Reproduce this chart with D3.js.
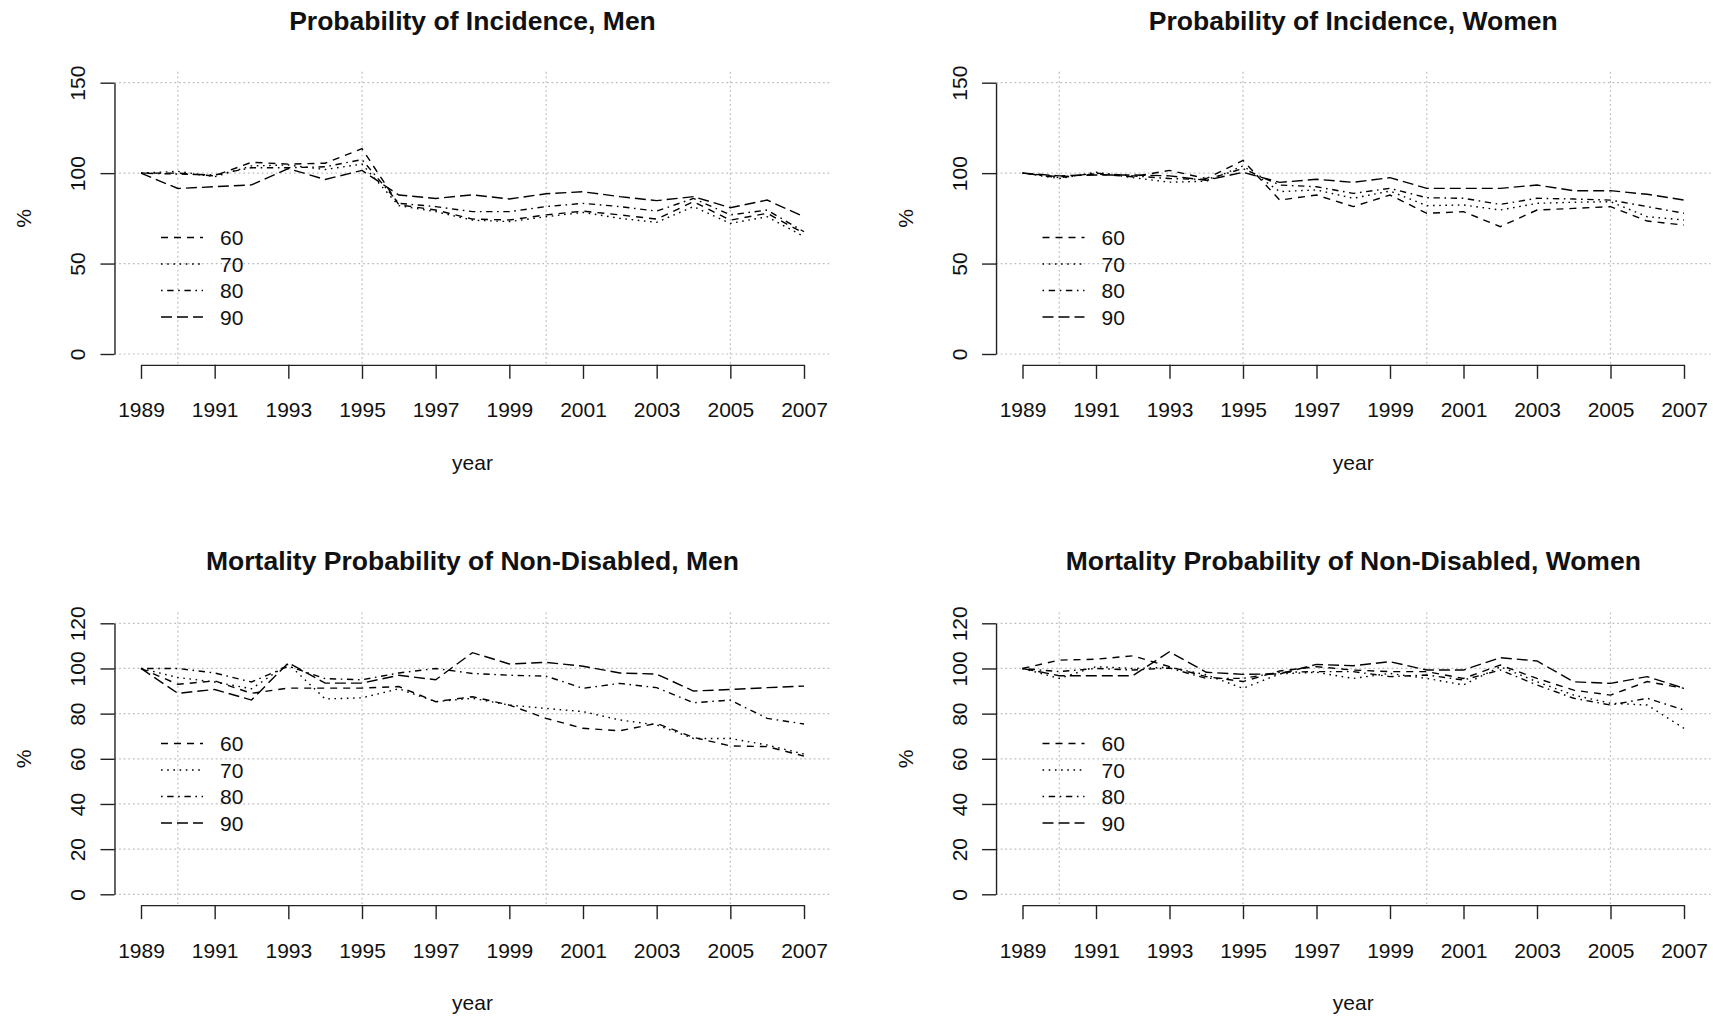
<!DOCTYPE html>
<html>
<head>
<meta charset="utf-8">
<title>Incidence and Mortality Probabilities</title>
<script src="https://cdnjs.cloudflare.com/ajax/libs/d3/7.8.5/d3.min.js"></script>
<style>
    body { margin: 0; background: #fff; }
    svg { display: block; font-family: "Liberation Sans", Arial, sans-serif; }
</style>
</head>
<body>
<div id="chart"></div>
<script>

    // ---- data ----
    var years = [1989, 1990, 1991, 1992, 1993, 1994, 1995, 1996, 1997, 1998,
                 1999, 2000, 2001, 2002, 2003, 2004, 2005, 2006, 2007];
    var ageGroups = ["60", "70", "80", "90"];
    var yearTicks = [1989, 1991, 1993, 1995, 1997, 1999, 2001, 2003, 2005, 2007];
    var gridYears = [1990, 1995, 2000, 2005];
    var incidenceTicks = [0, 50, 100, 150];
    var mortalityTicks = [0, 20, 40, 60, 80, 100, 120];
    var titles = ["Probability of Incidence, Men", "Probability of Incidence, Women",
                  "Mortality Probability of Non-Disabled, Men", "Mortality Probability of Non-Disabled, Women"];

    var incMen60 = [100, 100, 98.5, 106, 105, 105.5, 113.5, 82.5, 79.6, 74.6, 74.1, 76.9, 79, 76.9, 74.6, 84.2, 74, 77.8, 66.7];
    var incMen70 = [100, 101, 98, 104, 104.5, 102, 105, 82, 78.7, 74, 73.2, 75.9, 78.3, 75, 72.8, 81.5, 72.2, 75.9, 64.9];
    var incMen80 = [100, 99.5, 99, 103, 103, 103.5, 107.5, 83.3, 81.5, 78.7, 78.7, 81.5, 83.3, 81.5, 79, 86, 76.9, 79.6, 67.6];
    var incMen90 = [100, 91.5, 92.5, 93.5, 102.5, 96.5, 101.5, 87.9, 86, 88, 85.7, 88.6, 89.7, 87, 84.8, 87, 80.9, 85.1, 75.9];

    var incWomen60 = [100, 98, 99.5, 98, 101.5, 97, 107, 85.1, 87.9, 81.5, 87.9, 77.8, 78.7, 70.4, 79.6, 80.5, 81.5, 73.5, 71.3];
    var incWomen70 = [100, 97, 100.5, 97.5, 95, 95.5, 104, 89.8, 90.7, 86.1, 90.1, 82, 82.4, 79.6, 83.3, 83.9, 84.2, 75.9, 74.1];
    var incWomen80 = [100, 97.5, 100, 98.5, 97, 96.5, 102.5, 93.4, 92.5, 88.8, 91.6, 86.4, 86.1, 82.7, 86.1, 85.7, 85.1, 81.5, 77.8];
    var incWomen90 = [100, 98.5, 99, 99, 98.5, 96, 100.5, 94.9, 96.6, 94.9, 97.5, 91.6, 91.6, 91.6, 93.4, 90.3, 90.3, 88.3, 85.1];

    var mortMen60 = [100, 93, 94.5, 89, 91.3, 91.3, 91.3, 92, 85.3, 87.5, 83.8, 77.9, 73.5, 72.4, 75.7, 69.5, 65.7, 65.4, 61.2];
    var mortMen70 = [100, 96, 94, 91, 102, 86.5, 87, 91, 85.3, 86.8, 83.8, 82.3, 80.9, 77.2, 75, 69, 69, 66.1, 62.1];
    var mortMen80 = [100, 100, 98, 94, 101, 95.5, 95, 98, 100, 97.8, 97, 96.6, 91.2, 93.4, 91.5, 84.8, 86, 77.9, 75.4];
    var mortMen90 = [100, 89, 90.7, 86, 102.5, 93.5, 93.5, 97, 95, 107, 102, 102.7, 101, 98, 97.5, 90, 90.7, 91.5, 92.2];

    var mortWomen60 = [100, 103.7, 104.1, 105.6, 100.8, 96.4, 94.2, 98.9, 100.8, 99.3, 98.6, 98.6, 95.6, 101.5, 95.6, 90.4, 88.2, 94.2, 91.2];
    var mortWomen70 = [100, 95.6, 100.8, 100, 100.5, 97.2, 91.2, 97.6, 98.3, 95.6, 97.8, 95.6, 92.7, 100.8, 94.1, 88.2, 84.6, 83.8, 73.5];
    var mortWomen80 = [100, 98.6, 100, 99.3, 100.2, 95.6, 95.6, 98.3, 98.6, 98.6, 96.4, 97.1, 94.9, 99.3, 92.7, 86.8, 83.8, 86.8, 81.6];
    var mortWomen90 = [100, 96.8, 96.8, 96.8, 107.4, 98.3, 97.4, 97.6, 101.8, 101.2, 103, 99.3, 99.3, 104.8, 103.3, 94.1, 93.4, 96.4, 91.2];

    // R line types 2..5 (dashed, dotted, dotdash, longdash)
    var dashes = ["7,6", "1.6,4.6", "1.6,4.6,6.4,4.6", "11,5"];

    var panels = [
        { title: titles[0], series: [incMen60, incMen70, incMen80, incMen90], ticks: incidenceTicks, col: 0, row: 0 },
        { title: titles[1], series: [incWomen60, incWomen70, incWomen80, incWomen90], ticks: incidenceTicks, col: 1, row: 0 },
        { title: titles[2], series: [mortMen60, mortMen70, mortMen80, mortMen90], ticks: mortalityTicks, col: 0, row: 1 },
        { title: titles[3], series: [mortWomen60, mortWomen70, mortWomen80, mortWomen90], ticks: mortalityTicks, col: 1, row: 1 }
    ];

    // pixel frame of each column / row (first to last tick)
    var cols = [{ x0: 141, x1: 804 }, { x0: 1022.5, x1: 1684 }];
    var rows = [{ y0: 354, y1: 82.7 }, { y0: 894.3, y1: 623.3 }];

    var svg = d3.select("#chart").append("svg")
        .attr("width", 1713)
        .attr("height", 1018);

    svg.append("rect").attr("width", 1713).attr("height", 1018).attr("fill", "#fff");

    function DrawPanel(p) {
        var c = cols[p.col], r = rows[p.row];
        var yMax = d3.max(p.ticks);

        var x = d3.scaleLinear().domain([years[0], years[years.length - 1]]).range([c.x0, c.x1]);
        var y = d3.scaleLinear().domain([0, yMax]).range([r.y0, r.y1]);

        // plot region, R style 4% extension
        var padX = (years[years.length - 1] - years[0]) * 0.04;
        var padY = yMax * 0.04;
        var left = x(years[0] - padX), right = x(years[years.length - 1] + padX);
        var bottom = y(-padY), top = y(yMax + padY);

        var g = svg.append("g");

        // grid
        g.selectAll(".hgrid").data(p.ticks).enter().append("line")
            .attr("x1", left).attr("x2", right)
            .attr("y1", function(d) { return y(d); })
            .attr("y2", function(d) { return y(d); })
            .attr("stroke", "#bdbdbd").attr("stroke-width", 1.2)
            .attr("stroke-dasharray", "1.8,2.8");
        g.selectAll(".vgrid").data(gridYears).enter().append("line")
            .attr("y1", top).attr("y2", bottom)
            .attr("x1", function(d) { return x(d); })
            .attr("x2", function(d) { return x(d); })
            .attr("stroke", "#bdbdbd").attr("stroke-width", 1.2)
            .attr("stroke-dasharray", "1.8,2.8");

        // series
        var line = d3.line()
            .x(function(d, i) { return x(years[i]); })
            .y(function(d) { return y(d); });

        p.series.forEach(function(s, k) {
            g.append("path")
                .attr("d", line(s))
                .attr("fill", "none")
                .attr("stroke", "#000")
                .attr("stroke-width", 1.4)
                .attr("stroke-dasharray", dashes[k]);
        });

        // x axis
        var xAxis = g.append("g")
            .attr("transform", "translate(0," + bottom + ")")
            .call(d3.axisBottom(x).tickValues(yearTicks).tickFormat(d3.format("d"))
                .tickSize(14).tickSizeOuter(0));
        xAxis.selectAll("text")
            .attr("y", 417.5 - 364.9).attr("dy", 0)
            .attr("font-size", 21).attr("fill", "#111");

        // y axis
        var yAxis = g.append("g")
            .attr("transform", "translate(" + left + ",0)")
            .call(d3.axisLeft(y).tickValues(p.ticks).tickSize(14).tickSizeOuter(0));
        yAxis.selectAll("text")
            .attr("transform", "rotate(-90)")
            .attr("x", 0).attr("y", -29).attr("dy", 0)
            .style("text-anchor", "middle")
            .attr("font-size", 21).attr("fill", "#111");

        [xAxis, yAxis].forEach(function(a) {
            a.attr("font-family", null).attr("font-size", null);
            a.selectAll("path, line").attr("stroke", "#222").attr("stroke-width", 1.4);
        });

        // labels
        g.append("text")
            .attr("x", (left + right) / 2).attr("y", r.y0 - 354 + 29.5)
            .attr("text-anchor", "middle")
            .attr("font-size", 26.5).attr("font-weight", "bold").attr("fill", "#111")
            .text(p.title);
        g.append("text")
            .attr("x", (left + right) / 2).attr("y", r.y0 - 354 + 470)
            .attr("text-anchor", "middle")
            .attr("font-size", 21).attr("fill", "#111")
            .text("year");
        g.append("text")
            .attr("transform", "translate(" + (left - 83.5) + "," + ((top + bottom) / 2) + ") rotate(-90)")
            .attr("text-anchor", "middle")
            .attr("font-size", 21).attr("fill", "#111")
            .text("%");

        // legend
        var legTop = p.row === 0 ? 237.5 : 743.5;
        var lx = x(years[0]) + 20;
        ageGroups.forEach(function(a, k) {
            var ly = legTop + k * 26.5;
            g.append("line")
                .attr("x1", lx).attr("x2", lx + 42)
                .attr("y1", ly).attr("y2", ly)
                .attr("stroke", "#000").attr("stroke-width", 1.4)
                .attr("stroke-dasharray", dashes[k]);
            g.append("text")
                .attr("x", lx + 59).attr("y", ly)
                .attr("dy", "0.36em")
                .attr("font-size", 21).attr("fill", "#111")
                .text(a);
        });
    }

    panels.forEach(DrawPanel);

</script>
</body>
</html>
